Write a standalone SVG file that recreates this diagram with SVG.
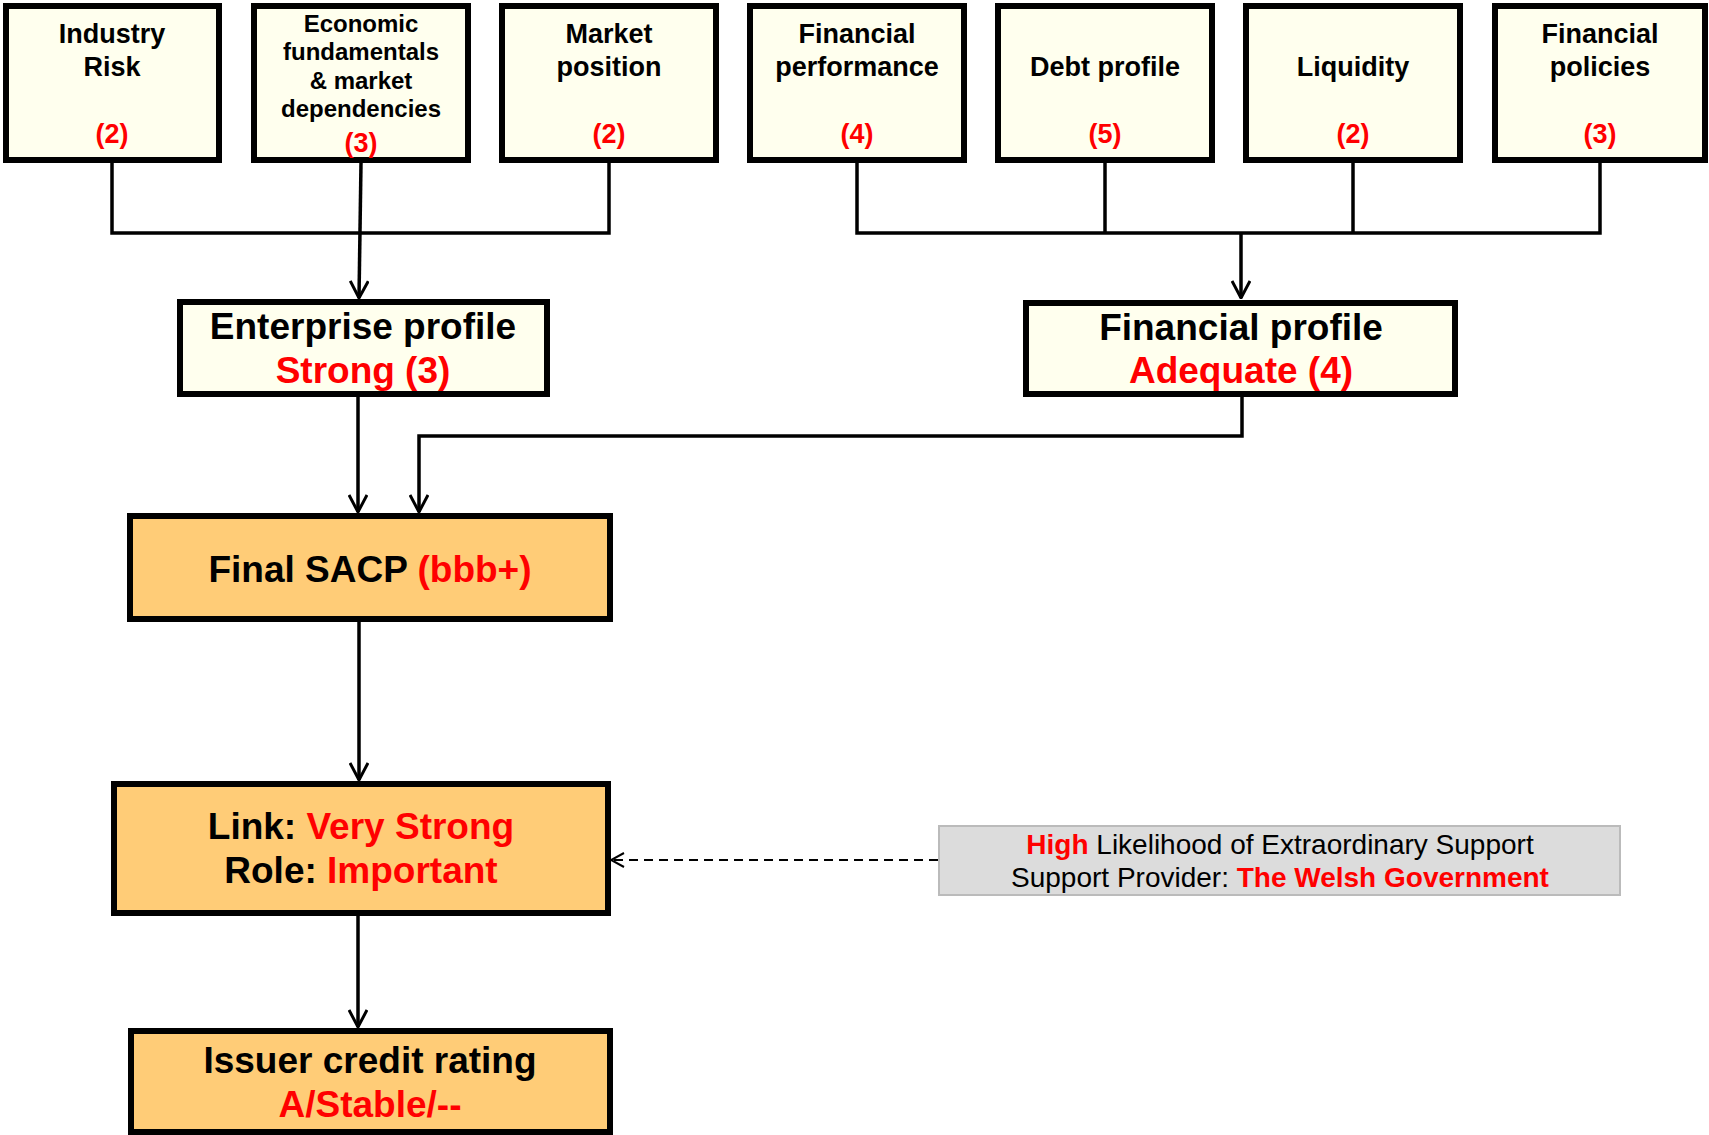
<svg xmlns="http://www.w3.org/2000/svg" width="1709" height="1135" viewBox="0 0 1709 1135">
<style>
.bx{fill:#FFFFEE;stroke:#000;stroke-width:6}
.ob{fill:#FFCC77;stroke:#000;stroke-width:6}
.t{font-family:"Liberation Sans",Arial,sans-serif;font-weight:bold;fill:#000;text-anchor:middle}
.r{fill:#FF0000}
.s27{font-size:27px}
.s24{font-size:24px}
.s37{font-size:37px}
.ln{fill:none;stroke:#000;stroke-width:3.5}
.dash{fill:none;stroke:#000;stroke-width:2;stroke-dasharray:9 6}
</style>
<defs>
<marker id="ah" viewBox="0 0 20 20" refX="19" refY="10" markerWidth="20" markerHeight="20" markerUnits="userSpaceOnUse" orient="auto">
<path d="M2,1 L19,10 L2,19" fill="none" stroke="#000" stroke-width="3"/>
</marker>
<marker id="ah2" viewBox="0 0 16 16" refX="15" refY="8" markerWidth="16" markerHeight="16" markerUnits="userSpaceOnUse" orient="auto">
<path d="M2,1 L15,8 L2,15" fill="none" stroke="#000" stroke-width="2"/>
</marker>
</defs>

<g id="connectors">
<path class="ln" d="M112,163 V233 H609 V163"/>
<path class="ln" d="M361,163 L359,298" marker-end="url(#ah)"/>
<path class="ln" d="M857,163 V233 H1600 V163"/>
<path class="ln" d="M1105,163 V233"/>
<path class="ln" d="M1353,163 V233"/>
<path class="ln" d="M1241,233 V298" marker-end="url(#ah)"/>
<path class="ln" d="M358,397 V512" marker-end="url(#ah)"/>
<path class="ln" d="M1242,397 V436 H419 V512" marker-end="url(#ah)"/>
<path class="ln" d="M359,622 V780" marker-end="url(#ah)"/>
<path class="ln" d="M358,916 V1027" marker-end="url(#ah)"/>
<path class="dash" d="M938,860 H611" marker-end="url(#ah2)"/>
</g>

<g id="industry-risk">
<rect class="bx" x="6" y="6" width="213" height="154"/>
<text class="t s27" x="112" y="43">Industry</text>
<text class="t s27" x="112" y="76">Risk</text>
<text class="t s27 r" x="112" y="143">(2)</text>
</g>
<g id="economic-fundamentals">
<rect class="bx" x="254" y="6" width="214" height="154"/>
<text class="t s24" x="361" y="32">Economic</text>
<text class="t s24" x="361" y="60">fundamentals</text>
<text class="t s24" x="361" y="89">&amp; market</text>
<text class="t s24" x="361" y="117">dependencies</text>
<text class="t s27 r" x="361" y="152">(3)</text>
</g>
<g id="market-position">
<rect class="bx" x="502" y="6" width="214" height="154"/>
<text class="t s27" x="609" y="43">Market</text>
<text class="t s27" x="609" y="76">position</text>
<text class="t s27 r" x="609" y="143">(2)</text>
</g>
<g id="financial-performance">
<rect class="bx" x="750" y="6" width="214" height="154"/>
<text class="t s27" x="857" y="43">Financial</text>
<text class="t s27" x="857" y="76">performance</text>
<text class="t s27 r" x="857" y="143">(4)</text>
</g>
<g id="debt-profile">
<rect class="bx" x="998" y="6" width="214" height="154"/>
<text class="t s27" x="1105" y="76">Debt profile</text>
<text class="t s27 r" x="1105" y="143">(5)</text>
</g>
<g id="liquidity">
<rect class="bx" x="1246" y="6" width="214" height="154"/>
<text class="t s27" x="1353" y="76">Liquidity</text>
<text class="t s27 r" x="1353" y="143">(2)</text>
</g>
<g id="financial-policies">
<rect class="bx" x="1495" y="6" width="210" height="154"/>
<text class="t s27" x="1600" y="43">Financial</text>
<text class="t s27" x="1600" y="76">policies</text>
<text class="t s27 r" x="1600" y="143">(3)</text>
</g>

<g id="enterprise-profile">
<rect class="bx" x="180" y="302" width="367" height="92"/>
<text class="t s37" x="363" y="339">Enterprise profile</text>
<text class="t s37 r" x="363" y="383">Strong (3)</text>
</g>
<g id="financial-profile">
<rect class="bx" x="1026" y="303" width="429" height="91"/>
<text class="t s37" x="1241" y="340">Financial profile</text>
<text class="t s37 r" x="1241" y="383">Adequate (4)</text>
</g>

<g id="final-sacp">
<rect class="ob" x="130" y="516" width="480" height="103"/>
<text class="t s37" x="370" y="582">Final SACP <tspan class="r">(bbb+)</tspan></text>
</g>

<g id="link-role">
<rect class="ob" x="114" y="784" width="494" height="129"/>
<text class="t s37" x="361" y="839">Link: <tspan class="r">Very Strong</tspan></text>
<text class="t s37" x="361" y="883">Role: <tspan class="r">Important</tspan></text>
</g>

<g id="issuer-credit-rating">
<rect class="ob" x="131" y="1031" width="479" height="101"/>
<text class="t s37" x="370" y="1073">Issuer credit rating</text>
<text class="t s37 r" x="370" y="1117">A/Stable/--</text>
</g>

<g id="support">
<rect x="939" y="826" width="681" height="69" fill="#DCDCDC" stroke="#BBBBBB" stroke-width="2"/>
<text x="1280" y="854" font-family="'Liberation Sans',Arial,sans-serif" font-size="28" text-anchor="middle" fill="#000"><tspan fill="#FF0000" font-weight="bold">High</tspan> Likelihood of Extraordinary Support</text>
<text x="1280" y="887" font-family="'Liberation Sans',Arial,sans-serif" font-size="28" text-anchor="middle" fill="#000">Support Provider: <tspan fill="#FF0000" font-weight="bold">The Welsh Government</tspan></text>
</g>
</svg>
